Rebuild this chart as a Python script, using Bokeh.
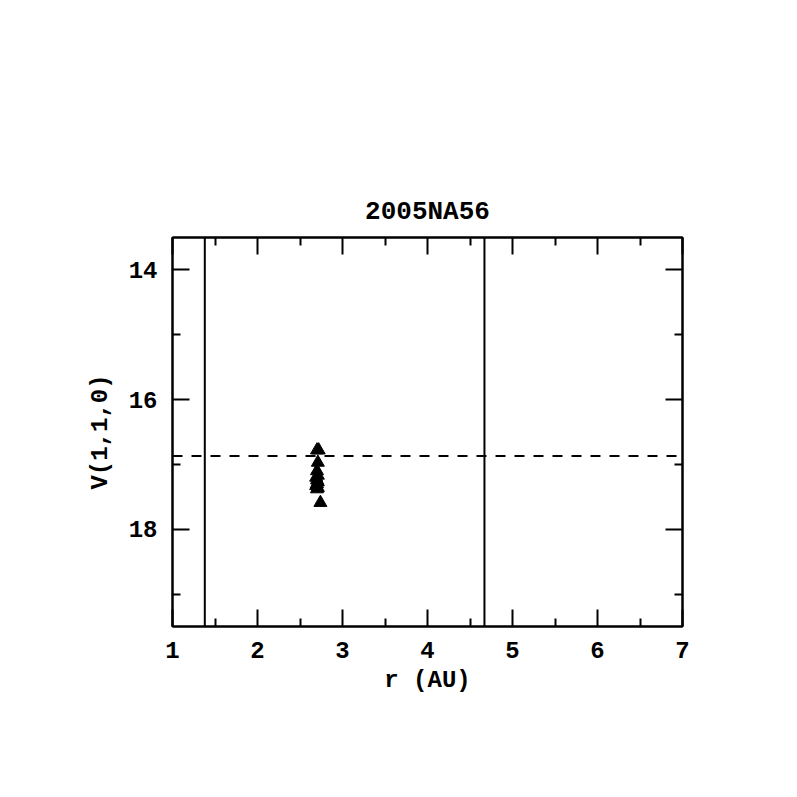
from bokeh.plotting import figure
from bokeh.models import Range1d, FixedTicker, LinearAxis, Span
from bokeh.embed import file_html
from bokeh.resources import INLINE

# Data
r_au = [2.70, 2.72, 2.71, 2.70, 2.71, 2.69, 2.70, 2.71, 2.70, 2.69, 2.71, 2.70, 2.74]
v110 = [16.78, 16.78, 16.97, 17.10, 17.17, 17.20, 17.24, 17.27, 17.30, 17.33, 17.36, 17.38, 17.59]
vertical_lines = [1.38, 4.67]
dashed_level = 16.87
x_ticks = [1, 2, 3, 4, 5, 6, 7]
x_minor = [1.5, 2.5, 3.5, 4.5, 5.5, 6.5]
y_ticks = [14, 16, 18]
y_minor = [15, 17, 19]
title_text = "2005NA56"
x_label = "r (AU)"
y_label = "V(1,1,0)"

FONT = "Liberation Mono"

p = figure(width=781, height=781, output_backend="svg", toolbar_location=None,
           x_range=Range1d(1, 7), y_range=Range1d(19.5, 13.5),
           min_border_left=172, min_border_right=99,
           min_border_top=237, min_border_bottom=155,
           x_axis_label=x_label, y_axis_label=y_label)

p.title.text = title_text
p.title.align = "center"
p.title.text_font = FONT
p.title.text_font_size = "26px"
p.title.text_font_style = "bold"
p.title.text_color = "black"
p.title.standoff = 21

p.grid.visible = False
p.outline_line_color = "black"
p.outline_line_width = 2
p.background_fill_color = "white"
p.border_fill_color = "white"

xt = FixedTicker(ticks=x_ticks, minor_ticks=x_minor)
yt = FixedTicker(ticks=y_ticks, minor_ticks=y_minor)

def style_axis(ax, labels=True):
    ax.axis_line_width = 2
    ax.axis_line_color = "black"
    ax.major_tick_in = 17
    ax.major_tick_out = 0
    ax.minor_tick_in = 8
    ax.minor_tick_out = 0
    ax.major_tick_line_width = 2
    ax.minor_tick_line_width = 2
    ax.major_tick_line_color = "black"
    ax.minor_tick_line_color = "black"
    ax.major_label_text_font = FONT
    ax.major_label_text_font_style = "bold"
    ax.major_label_text_font_size = "24px"
    ax.major_label_text_color = "black" if labels else None
    ax.axis_label_text_font = FONT
    ax.axis_label_text_font_style = "bold"
    ax.axis_label_text_font_size = "24px"
    ax.axis_label_text_color = "black"

xa = p.xaxis[0]
xa.ticker = xt
style_axis(xa)
xa.major_label_standoff = 15
xa.axis_label_standoff = 6

ya = p.yaxis[0]
ya.ticker = yt
style_axis(ya)
ya.major_label_standoff = 15
ya.axis_label_standoff = 12
ya.major_label_orientation = "horizontal"

top_ax = LinearAxis(ticker=xt)
style_axis(top_ax, labels=False)
p.add_layout(top_ax, "above")
right_ax = LinearAxis(ticker=yt)
style_axis(right_ax, labels=False)
p.add_layout(right_ax, "right")

for xv in vertical_lines:
    p.add_layout(Span(location=xv, dimension="height", line_color="black", line_width=2))
p.add_layout(Span(location=dashed_level, dimension="width", line_color="black",
                  line_width=2, line_dash="10 9"))

p.scatter(r_au, v110, marker="triangle", size=13, fill_color="black", line_color="black")

open("out.html", "w").write(file_html(p, INLINE))
